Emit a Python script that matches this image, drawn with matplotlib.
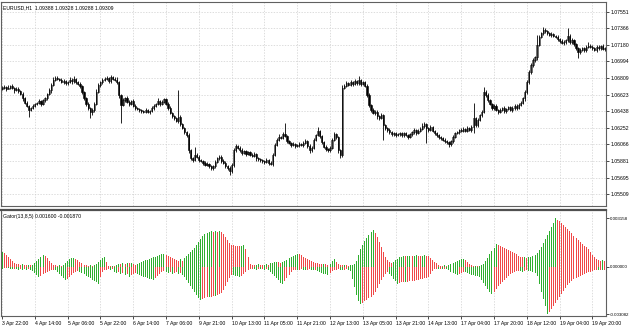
import matplotlib.pyplot as plt
from matplotlib import font_manager
import numpy as np

# EURUSD H1 closes (open of each bar = previous close)
first_open = 1.0669
closes = [
    1.0670, 1.0671, 1.0669, 1.0670, 1.0672, 1.0670, 1.0667, 1.0669, 1.0666, 1.0663,
    1.0658, 1.0653, 1.0650, 1.0645, 1.0647, 1.0650, 1.0652, 1.0653, 1.0655, 1.0652,
    1.0656, 1.0658, 1.0663, 1.0667, 1.0673, 1.0679, 1.0681, 1.0680, 1.0679, 1.0676,
    1.0677, 1.0675, 1.0676, 1.0679, 1.0677, 1.0680, 1.0676, 1.0674, 1.0672, 1.0665,
    1.0658, 1.0652, 1.0647, 1.0643, 1.0645, 1.0652, 1.0665, 1.0673, 1.0676, 1.0679,
    1.0680, 1.0681, 1.0677, 1.0682, 1.0680, 1.0679, 1.0676, 1.0662, 1.0651, 1.0656,
    1.0658, 1.0654, 1.0652, 1.0655, 1.0650, 1.0647, 1.0646, 1.0645, 1.0644, 1.0643,
    1.0645, 1.0643, 1.0644, 1.0647, 1.0650, 1.0652, 1.0655, 1.0652, 1.0654, 1.0657,
    1.0652, 1.0647, 1.0642, 1.0638, 1.0636, 1.0633, 1.0637, 1.0629, 1.0625, 1.0620,
    1.0617, 1.0600, 1.0591, 1.0589, 1.0595, 1.0593, 1.0589, 1.0588, 1.0586, 1.0584,
    1.0585, 1.0582, 1.0580, 1.0582, 1.0587, 1.0591, 1.0593, 1.0588, 1.0586, 1.0582,
    1.0580, 1.0577, 1.0584, 1.0600, 1.0605, 1.0603, 1.0600, 1.0597, 1.0599, 1.0596,
    1.0598, 1.0595, 1.0594, 1.0596, 1.0591, 1.0590, 1.0589, 1.0588, 1.0587, 1.0589,
    1.0586, 1.0585, 1.0595, 1.0606, 1.0612, 1.0615, 1.0614, 1.0618, 1.0616, 1.0610,
    1.0608, 1.0606, 1.0607, 1.0605, 1.0606, 1.0607, 1.0606, 1.0608, 1.0610, 1.0605,
    1.0600, 1.0603, 1.0612, 1.0617, 1.0622, 1.0616, 1.0609, 1.0604, 1.0601, 1.0600,
    1.0603, 1.0612, 1.0618, 1.0615, 1.0600, 1.0595, 1.0670, 1.0672, 1.0675, 1.0673,
    1.0676, 1.0674, 1.0677, 1.0675, 1.0679, 1.0674, 1.0676, 1.0672, 1.0662, 1.0651,
    1.0645, 1.0642, 1.0643, 1.0638, 1.0636, 1.0639, 1.0628, 1.0625, 1.0623, 1.0620,
    1.0618, 1.0619, 1.0617, 1.0618, 1.0619, 1.0617, 1.0619, 1.0617, 1.0615, 1.0618,
    1.0620, 1.0623, 1.0619, 1.0622, 1.0624, 1.0627, 1.0629, 1.0625, 1.0623, 1.0626,
    1.0622, 1.0619, 1.0617, 1.0615, 1.0614, 1.0612, 1.0610, 1.0609, 1.0607, 1.0610,
    1.0615, 1.0619, 1.0620, 1.0623, 1.0622, 1.0624, 1.0622, 1.0625, 1.0623, 1.0626,
    1.0636, 1.0628, 1.0634, 1.0639, 1.0643, 1.0665, 1.0662, 1.0656, 1.0652, 1.0647,
    1.0650, 1.0645, 1.0643, 1.0645, 1.0647, 1.0644, 1.0646, 1.0648, 1.0645, 1.0647,
    1.0650, 1.0647, 1.0651, 1.0653, 1.0658, 1.0665, 1.0676, 1.0688, 1.0695, 1.0701,
    1.0704, 1.0718, 1.0727, 1.0731, 1.0735, 1.0733, 1.0731, 1.0729, 1.0730, 1.0728,
    1.0727, 1.0724, 1.0722, 1.0720, 1.0721, 1.0723, 1.0728, 1.0721, 1.0723, 1.0719,
    1.0714, 1.0710, 1.0712, 1.0714, 1.0712, 1.0716, 1.0717, 1.0716, 1.0714, 1.0712,
    1.0716, 1.0714, 1.0717, 1.0713, 1.0714,
]
# wick lengths above / below the body, in points (0.00001)
wick_up = [
    15, 20, 10, 25, 12, 18, 10, 22, 15, 12, 20, 15, 25, 10, 18, 22, 12, 15, 28, 10,
    15, 20, 12, 25, 18, 30, 15, 20, 12, 18, 22, 15, 10, 25, 18, 35, 12, 15, 20, 10,
    15, 12, 20, 18, 25, 15, 30, 20, 15, 22, 18, 25, 12, 20, 15, 18, 30, 10, 12, 20,
    15, 22, 18, 12, 20, 15, 10, 18, 12, 15, 20, 12, 15, 25, 18, 12, 35, 15, 20, 18,
    12, 15, 20, 10, 18, 15, 300, 20, 15, 12, 18, 25, 15, 20, 90, 15, 12, 18, 10, 15,
    20, 12, 15, 18, 25, 15, 20, 12, 18, 15, 12, 20, 15, 30, 18, 12, 15, 20, 12, 18,
    15, 12, 20, 18, 10, 15, 12, 18, 15, 20, 12, 15, 25, 20, 18, 30, 15, 20, 120, 15,
    18, 12, 20, 15, 12, 18, 15, 20, 25, 12, 15, 18, 22, 15, 35, 12, 15, 10, 18, 12,
    15, 20, 25, 15, 12, 18, 35, 25, 20, 15, 30, 15, 25, 18, 35, 12, 20, 15, 20, 15,
    12, 18, 15, 20, 12, 25, 18, 15, 12, 18, 15, 20, 12, 18, 15, 12, 20, 15, 12, 18,
    15, 20, 12, 18, 15, 30, 22, 15, 12, 18, 15, 12, 18, 10, 15, 12, 18, 15, 12, 20,
    18, 15, 20, 12, 18, 15, 12, 18, 15, 20, 170, 15, 25, 20, 18, 55, 20, 15, 18, 12,
    20, 15, 12, 18, 15, 20, 12, 18, 15, 20, 15, 12, 20, 18, 15, 20, 25, 18, 22, 20,
    15, 110, 20, 18, 25, 20, 15, 18, 20, 15, 12, 18, 15, 20, 18, 15, 90, 15, 20, 12,
    15, 18, 20, 15, 12, 18, 45, 15, 12, 18, 15, 20, 12, 18, 15,
]
wick_dn = [
    12, 18, 22, 10, 15, 20, 25, 12, 18, 15, 25, 18, 20, 80, 15, 12, 20, 18, 15, 22,
    12, 18, 20, 15, 25, 12, 18, 15, 20, 12, 15, 18, 20, 12, 25, 15, 18, 12, 20, 25,
    18, 20, 25, 70, 30, 20, 15, 12, 18, 15, 12, 15, 20, 18, 12, 15, 20, 35, 200, 18,
    20, 15, 25, 18, 12, 20, 15, 18, 22, 15, 12, 18, 20, 15, 18, 12, 15, 20, 18, 12,
    15, 18, 12, 20, 25, 15, 30, 18, 15, 20, 25, 30, 20, 25, 15, 18, 20, 15, 22, 18,
    15, 20, 25, 15, 18, 12, 15, 20, 18, 22, 15, 45, 20, 25, 18, 15, 20, 18, 12, 20,
    18, 15, 20, 12, 25, 15, 20, 18, 22, 15, 30, 20, 25, 18, 15, 20, 12, 18, 15, 20,
    15, 18, 12, 20, 15, 18, 12, 20, 15, 25, 30, 20, 15, 18, 12, 20, 18, 15, 20, 18,
    15, 18, 12, 20, 25, 35, 20, 15, 18, 12, 15, 20, 12, 18, 15, 25, 12, 18, 20, 25,
    18, 15, 20, 25, 18, 15, 170, 25, 20, 18, 15, 20, 18, 12, 15, 20, 18, 15, 22, 18,
    15, 18, 20, 12, 15, 18, 20, 170, 25, 18, 15, 20, 18, 22, 25, 18, 20, 15, 35, 20,
    15, 18, 12, 20, 15, 18, 20, 15, 18, 25, 65, 20, 15, 18, 20, 15, 25, 20, 18, 15,
    18, 15, 20, 18, 15, 20, 18, 12, 15, 20, 18, 15, 12, 20, 18, 25, 20, 15, 25, 18,
    20, 25, 18, 15, 20, 15, 18, 12, 20, 15, 18, 20, 15, 12, 18, 20, 15, 18, 20, 25,
    20, 65, 18, 15, 20, 18, 15, 20, 18, 15, 18, 15, 20, 12, 18,
]

# Gator oscillator (13,8,5), in points: upper histogram and size of lower histogram
gator_up = [
    98, 91, 78, 65, 52, 39, 26, 20, 16, 13, 16, 13, 10, 13, 10, 13, 26, 39, 52, 65,
    78, 72, 59, 39, 26, 13, 10, 7, 10, 7, 13, 26, 39, 49, 59, 59, 52, 42, 33, 23,
    13, 10, 7, 10, 7, 10, 20, 33, 46, 59, 65, 33, 7, 3, 7, 3, 13, 20, 16, 23,
    20, 26, 23, 26, 20, 13, 20, 26, 33, 36, 42, 46, 52, 55, 62, 65, 72, 75, 81, 85,
    78, 72, 65, 59, 52, 46, 39, 49, 39, 59, 72, 85, 98, 111, 124, 143, 163, 182, 202, 215,
    221, 228, 231, 228, 234, 228, 231, 228, 215, 195, 176, 156, 143, 140, 137, 137, 133, 137, 140, 117,
    65, 20, 13, 10, 13, 16, 13, 10, 13, 16, 13, 23, 26, 29, 33, 29, 26, 29, 36, 46,
    55, 65, 72, 78, 85, 81, 75, 65, 59, 49, 42, 36, 33, 26, 23, 20, 16, 20, 16, 13,
    20, 39, 52, 33, 20, 13, 10, 13, 10, 7, 10, 13, 16, 39, 78, 117, 143, 169, 189, 208,
    228, 241, 221, 195, 163, 130, 98, 65, 46, 33, 26, 33, 42, 52, 62, 65, 72, 68, 72, 72,
    68, 72, 75, 72, 68, 72, 75, 72, 68, 59, 46, 33, 23, 13, 7, 7, 10, 7, 13, 20,
    26, 33, 39, 46, 49, 52, 42, 33, 20, 10, 3, 7, 3, 7, 10, 20, 39, 59, 85, 104,
    124, 150, 143, 137, 130, 124, 117, 111, 104, 98, 91, 81, 72, 65, 62, 65, 59, 62, 65, 72,
    78, 91, 111, 130, 156, 182, 208, 234, 260, 286, 315.8, 306, 296, 286, 273, 260, 247, 234, 221, 202,
    189, 176, 163, 150, 137, 127, 117, 98, 78, 65, 52, 46, 39, 46, 39,
]
gator_dn = [
    13, 10, 7, 10, 13, 16, 13, 16, 20, 16, 20, 16, 20, 16, 20, 26, 39, 52, 65, 59,
    49, 39, 33, 26, 23, 20, 23, 33, 46, 59, 72, 85, 78, 65, 52, 39, 33, 29, 36, 42,
    49, 59, 65, 75, 85, 91, 101, 111, 65, 33, 20, 20, 16, 20, 16, 33, 39, 33, 46, 39,
    52, 46, 65, 52, 46, 39, 46, 52, 59, 65, 68, 72, 78, 81, 85, 72, 59, 46, 33, 26,
    33, 39, 33, 46, 39, 33, 46, 39, 52, 65, 85, 104, 124, 143, 163, 182, 202, 215, 208, 202,
    195, 198, 195, 189, 192, 182, 176, 169, 150, 124, 98, 72, 52, 55, 59, 62, 65, 59, 46, 33,
    20, 16, 13, 16, 20, 13, 16, 13, 20, 16, 20, 33, 46, 59, 72, 88, 104, 111, 91, 72,
    52, 33, 23, 20, 23, 20, 16, 20, 23, 20, 16, 20, 23, 20, 26, 33, 39, 46, 49, 52,
    39, 26, 23, 20, 16, 20, 23, 20, 16, 20, 26, 78, 130, 182, 221, 241, 234, 221, 215, 202,
    195, 182, 163, 137, 111, 85, 65, 46, 33, 46, 59, 78, 94, 111, 104, 101, 98, 101, 98, 94,
    91, 91, 88, 85, 81, 78, 75, 72, 65, 46, 26, 16, 13, 16, 13, 16, 13, 16, 23, 33,
    39, 46, 52, 46, 39, 33, 36, 42, 46, 52, 55, 59, 62, 65, 85, 104, 124, 143, 163, 176,
    163, 143, 124, 111, 98, 85, 72, 59, 46, 39, 33, 29, 26, 29, 33, 26, 23, 26, 29, 33,
    39, 59, 111, 163, 208, 254, 308.2, 293, 273, 254, 234, 215, 195, 176, 156, 137, 117, 104, 91, 81,
    72, 65, 59, 52, 46, 39, 36, 33, 26, 23, 20, 23, 20, 23, 20,
]

time_labels = ["3 Apr 22:00", "4 Apr 14:00", "5 Apr 06:00", "5 Apr 22:00", "6 Apr 14:00",
               "7 Apr 06:00", "9 Apr 21:00", "10 Apr 13:00", "11 Apr 05:00", "11 Apr 21:00",
               "12 Apr 13:00", "13 Apr 05:00", "13 Apr 21:00", "14 Apr 13:00", "17 Apr 04:00",
               "17 Apr 20:00", "18 Apr 12:00", "19 Apr 04:00", "19 Apr 20:00"]
price_ticks = [1.07551, 1.07366, 1.07180, 1.06994, 1.06809, 1.06623,
               1.06438, 1.06252, 1.06066, 1.05881, 1.05695, 1.05509]
gator_ticks = [0.003158, 0.0, -0.003082]

# narrow font if the system has one, like the terminal's small labels
installed = {f.name for f in font_manager.fontManager.ttflist}
if "Liberation Sans Narrow" in installed:
    plt.rcParams['font.family'] = ['Liberation Sans Narrow', 'DejaVu Sans']
    FS = 4.5
else:
    plt.rcParams['font.family'] = ['Liberation Sans', 'DejaVu Sans']
    FS = 3.7
GRID = dict(color="#cfcfcf", lw=0.5, ls=(0, (2, 2)))
GREEN = "#2fae2f"
RED = "#f04848"

n = len(closes)
x = np.arange(n)
c = np.array(closes)
o = np.array([first_open] + closes[:-1])
top = np.maximum(o, c)
bot = np.minimum(o, c)
hi = top + np.array(wick_up) * 1e-5
lo = bot - np.array(wick_dn) * 1e-5

fig = plt.figure(figsize=(6.3, 3.3), dpi=100)
ax1 = fig.add_axes([1 / 630, 1 - 206 / 330, 605 / 630, 204 / 330])
ax2 = fig.add_axes([1 / 630, 1 - 316 / 330, 605 / 630, 106 / 330])

# candles
ax1.vlines(x, lo, hi, color="black", lw=0.6)
bull = c >= o
body = np.maximum(top - bot, 0.00002)
ax1.bar(x[bull], body[bull], bottom=bot[bull], width=0.6,
        facecolor="white", edgecolor="black", lw=0.4)
ax1.bar(x[~bull], body[~bull], bottom=bot[~bull], width=0.6,
        facecolor="black", edgecolor="black", lw=0.4)

# gator histograms, green when growing, red when shrinking
up = np.array(gator_up) * 1e-5
dn = -np.array(gator_dn) * 1e-5

def bar_colors(vals):
    cols = []
    prev = GREEN
    for i in range(len(vals)):
        if i > 0 and abs(vals[i]) > abs(vals[i - 1]):
            prev = GREEN
        elif i > 0 and abs(vals[i]) < abs(vals[i - 1]):
            prev = RED
        cols.append(prev)
    return cols

ax2.bar(x, up, width=0.5, color=bar_colors(up), linewidth=0)
ax2.bar(x, dn, width=0.5, color=bar_colors(dn), linewidth=0)

xl = (-0.5, (605 / 2.05) - 0.5)
for ax in (ax1, ax2):
    ax.set_xlim(*xl)
    ax.set_xticks(np.arange(len(time_labels)) * 16)
    for xv in np.arange(len(time_labels)) * 16:
        ax.axvline(xv, zorder=0, **GRID)
    ax.yaxis.tick_right()
    ax.tick_params(axis="both", labelsize=FS, length=2, width=0.5, pad=1.5)
    for s in ax.spines.values():
        s.set_color("#606060")
        s.set_linewidth(0.8)

ax1.set_ylim(1.05377, 1.07658)
ax1.set_yticks(price_ticks)
ax1.set_yticklabels([f"{v:.5f}" for v in price_ticks])
for yv in price_ticks:
    ax1.axhline(yv, zorder=0, **GRID)
ax1.tick_params(axis="x", length=0, labelbottom=False)

ax2.set_ylim(-0.00319, 0.00370)
ax2.set_yticks(gator_ticks)
ax2.set_yticklabels([f"{v:.6f}" for v in gator_ticks])
ax2.tick_params(axis="y", labelsize=FS * 0.86, pad=1)
ax2.set_xticklabels(time_labels)
for lab in ax2.get_xticklabels():
    lab.set_horizontalalignment("left")
ax2.spines["top"].set_linewidth(1.6)
ax2.spines["top"].set_color("#505050")

ax1.text(0.004, 0.985, "EURUSD,H1  1.09388 1.09328 1.09288 1.09309", transform=ax1.transAxes,
         fontsize=FS, va="top", ha="left")
ax2.text(0.004, 0.96, "Gator(13,8,5) 0.001600 -0.001870", transform=ax2.transAxes,
         fontsize=FS, va="top", ha="left")

fig.savefig("out.png", dpi=100)
